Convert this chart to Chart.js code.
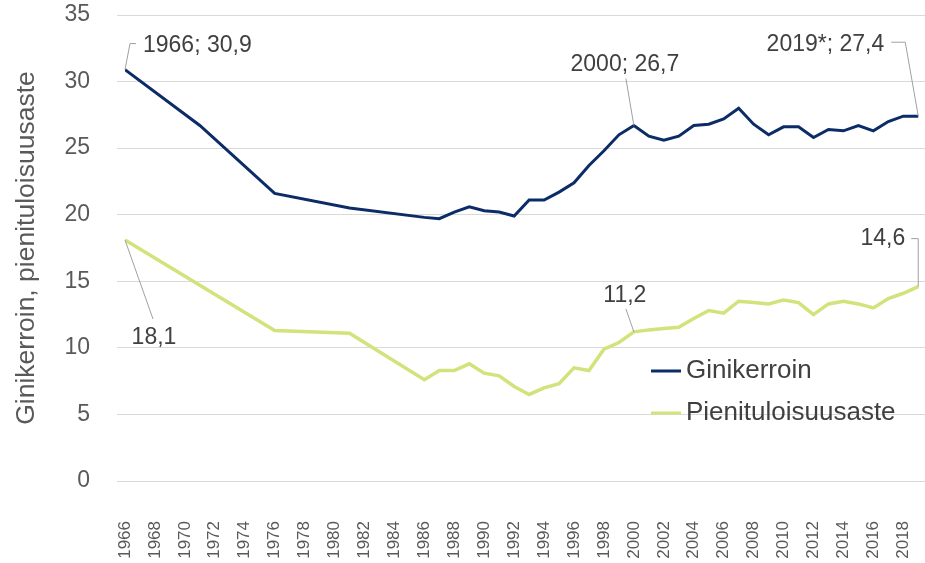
<!DOCTYPE html>
<html lang="fi">
<head>
  <meta charset="UTF-8" />
  <title>Ginikerroin ja pienituloisuusaste</title>
  <script src="https://cdn.jsdelivr.net/npm/chart.js"></script>
  <style>
    body { margin: 0; background: #fff; }
    #chart { display: block; }
  </style>
</head>
<body>
  <canvas id="chart" width="925" height="563"></canvas>

  <script>
    // Vuodet (1966-1986 vain otosvuodet, sen jälkeen vuosittain)
    const years = [1966, 1971, 1976, 1981, 1986, 1987, 1988, 1989, 1990, 1991, 1992, 1993,
      1994, 1995, 1996, 1997, 1998, 1999, 2000, 2001, 2002, 2003, 2004, 2005, 2006, 2007,
      2008, 2009, 2010, 2011, 2012, 2013, 2014, 2015, 2016, 2017, 2018, 2019];

    const gini = [30.9, 26.7, 21.6, 20.5, 19.8, 19.7, 20.2, 20.6, 20.3, 20.2, 19.9, 21.1,
      21.1, 21.7, 22.4, 23.7, 24.8, 26.0, 26.7, 25.9, 25.6, 25.9, 26.7, 26.8, 27.2, 28.0,
      26.8, 26.0, 26.6, 26.6, 25.8, 26.4, 26.3, 26.7, 26.3, 27.0, 27.4, 27.4];

    const lowIncome = [18.1, 14.7, 11.3, 11.1, 7.6, 8.3, 8.3, 8.8, 8.1, 7.9, 7.1, 6.5,
      7.0, 7.3, 8.5, 8.3, 9.9, 10.4, 11.2, 11.35, 11.45, 11.55, 12.2, 12.8, 12.6, 13.5,
      13.4, 13.3, 13.6, 13.4, 12.5, 13.3, 13.5, 13.3, 13.0, 13.7, 14.1, 14.6];

    const seriesNames = ['Ginikerroin', 'Pienituloisuusaste'];
    const yAxisTitle = 'Ginikerroin, pienituloisuusaste';

    const BLUE = '#0b2c66';
    const GREEN = '#d3e27b';
    const FONT = '"Liberation Sans", Arial, sans-serif';

    const fmt = v => String(v).replace('.', ',');

    // Selitteet viivojen ääripisteisiin
    const callouts = [
      { ds: 0, year: 1966, showYear: true, path: [[5, -26], [11, -26]], tx: 18, ty: -24, align: 'left' },
      { ds: 0, year: 2000, showYear: true, path: [[-8, -47]], tx: -9, ty: -61, align: 'center' },
      { ds: 0, year: 2019, showYear: true, star: true, path: [[-13, -74], [-27, -74]], tx: -34, ty: -72, align: 'right' },
      { ds: 1, year: 1966, path: [[28, 79]], tx: 29, ty: 98, align: 'center' },
      { ds: 1, year: 2000, path: [[-8, -23]], tx: -9, ty: -36, align: 'center' },
      { ds: 1, year: 2019, path: [[0, -48], [-7, -48]], tx: -13, ty: -48, align: 'right' }
    ];

    const calloutPlugin = {
      id: 'callouts',
      afterDatasetsDraw(chart) {
        const ctx = chart.ctx;
        ctx.save();
        callouts.forEach(c => {
          const i = years.indexOf(c.year);
          const pt = chart.getDatasetMeta(c.ds).data[i];
          const value = chart.data.datasets[c.ds].data[i].y;
          let text = fmt(value);
          if (c.showYear) text = c.year + (c.star ? '*' : '') + '; ' + text;

          ctx.strokeStyle = '#a0a0a0';
          ctx.lineWidth = 1;
          ctx.beginPath();
          ctx.moveTo(pt.x, pt.y);
          c.path.forEach(([dx, dy]) => ctx.lineTo(pt.x + dx, pt.y + dy));
          ctx.stroke();

          ctx.fillStyle = '#404040';
          ctx.font = '23px ' + FONT;
          ctx.textAlign = c.align;
          ctx.textBaseline = 'middle';
          ctx.fillText(text, pt.x + c.tx, pt.y + c.ty);
        });
        ctx.restore();
      }
    };

    // Selite kuva-alueen sisällä oikealla
    const legendPlugin = {
      id: 'innerLegend',
      afterDraw(chart) {
        const ctx = chart.ctx;
        const rows = [{ y: 371, color: BLUE }, { y: 413, color: GREEN }];
        ctx.save();
        rows.forEach((r, k) => {
          ctx.strokeStyle = r.color;
          ctx.lineWidth = 3;
          ctx.beginPath();
          ctx.moveTo(651, r.y);
          ctx.lineTo(681, r.y);
          ctx.stroke();
          ctx.fillStyle = '#404040';
          ctx.font = '26px ' + FONT;
          ctx.textAlign = 'left';
          ctx.textBaseline = 'middle';
          ctx.fillText(seriesNames[k], 686, r.y);
        });
        ctx.restore();
      }
    };

    // tick padding would otherwise be added to the chart edges too,
    // so fix the axis boxes by hand
    const clearPadding = scale => {
      scale.paddingLeft = 0;
      scale.paddingRight = 0;
      scale.paddingTop = 0;
      scale.paddingBottom = 0;
    };

    const ctx = document.getElementById('chart').getContext('2d');
    new Chart(ctx, {
      type: 'line',
      data: {
        datasets: [
          {
            label: seriesNames[0],
            data: years.map((y, i) => ({ x: y, y: gini[i] })),
            borderColor: BLUE,
            borderWidth: 3,
            pointRadius: 0,
            tension: 0
          },
          {
            label: seriesNames[1],
            data: years.map((y, i) => ({ x: y, y: lowIncome[i] })),
            borderColor: GREEN,
            borderWidth: 3.5,
            pointRadius: 0,
            tension: 0
          }
        ]
      },
      options: {
        responsive: false,
        animation: false,
        layout: { autoPadding: false, padding: { left: 0, right: 0, top: 15, bottom: 0 } },
        plugins: {
          legend: { display: false },
          tooltip: { enabled: false }
        },
        scales: {
          x: {
            type: 'linear',
            min: 1966,
            max: 2019.45,
            afterFit: s => { clearPadding(s); s.height = 82; },
            grid: { display: false, drawTicks: false },
            border: { display: false },
            ticks: {
              stepSize: 2,
              autoSkip: false,
              minRotation: 90,
              maxRotation: 90,
              padding: 40,
              color: '#595959',
              font: { family: FONT, size: 17 },
              callback: v => (Number.isInteger(v) && v % 2 === 0) ? String(v) : ''
            }
          },
          y: {
            min: 0,
            max: 35,
            afterFit: s => { clearPadding(s); s.width = 125; },
            grid: { color: '#d9d9d9', lineWidth: 1, drawTicks: true, tickLength: 8 },
            border: { display: false },
            ticks: {
              stepSize: 5,
              padding: 27,
              color: '#595959',
              font: { family: FONT, size: 23 }
            },
            title: {
              display: true,
              text: yAxisTitle,
              color: '#595959',
              font: { family: FONT, size: 26.5 },
              padding: { top: 11, bottom: 20 }
            }
          }
        }
      },
      plugins: [calloutPlugin, legendPlugin]
    });
  </script>
</body>
</html>
